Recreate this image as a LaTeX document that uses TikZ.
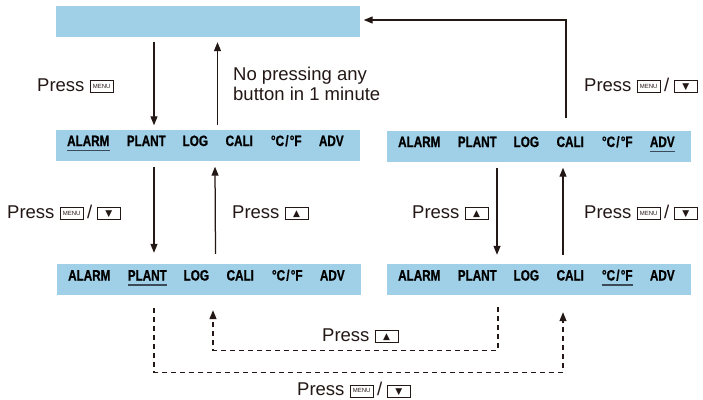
\documentclass[tikz,border=0pt]{standalone}
\usepackage{fontspec}
\setmainfont{Liberation Sans}
\newfontfamily\lcdfont{Liberation Sans}[FakeStretch=0.78, FakeBold=0.8]
\newfontfamily\symfont{DejaVu Sans}
\usetikzlibrary{arrows.meta,calc}
\definecolor{barblue}{RGB}{160,207,232}
\definecolor{ink}{RGB}{35,24,21}
\definecolor{ulcol}{RGB}{60,75,90}
\newcommand{\kbox}[1]{{\setlength{\fboxsep}{0pt}\setlength{\fboxrule}{0.7pt}\fbox{\makebox[22.6pt][c]{\rule[-1pt]{0pt}{11pt}#1}}}}
\newcommand{\kmenu}{\kbox{\raisebox{2.8pt}{\fontsize{6pt}{6pt}\selectfont MENU}}}
\newcommand{\kdn}{\kbox{\raisebox{1.2pt}{\symfont\fontsize{9pt}{9pt}\selectfont ▼}}}
\newcommand{\kup}{\kbox{\raisebox{1.2pt}{\symfont\fontsize{9pt}{9pt}\selectfont ▲}}}
\newcommand{\orsep}{\hspace{3.5pt}/\hspace{4.5pt}}
\newcommand{\lcdrow}[2]{%
  \node[bar] (#1) at (#2) {};
  \foreach \off/\txt [count=\i] in {33/ALARM,91/PLANT,140/LOG,184/CALI,231/{°C\hspace{1.2pt}/\hspace{1.2pt}°F},276/ADV}
    \node[lcd, anchor=base] (#1-\i) at ([xshift=\off pt, yshift=-1pt]#1.west) {\txt};
}
\begin{document}
\begin{tikzpicture}[x=1pt, y=-1pt,
  bar/.style={fill=barblue, minimum width=304pt, minimum height=31pt, inner sep=0pt},
  lcd/.style={font=\lcdfont\bfseries\fontsize{15pt}{15pt}\selectfont, text=black, inner sep=0pt},
  lbl/.style={font=\fontsize{18.5pt}{20pt}\selectfont, text=ink, inner sep=0pt, anchor=base west},
  arr/.style={draw=ink, line width=1.25pt, -{Triangle[width=7pt,length=9pt]}},
  dashline/.style={dash pattern=on 5pt off 4pt},
  underl/.style={draw=ulcol, line width=1.5pt}]
\fill[white] (0,0) rectangle (703,399);
\useasboundingbox (0,0) rectangle (703,399);

% bars
\node[bar] (top) at (207.5,21.5) {};
\lcdrow{L1}{207.5,145}
\lcdrow{R1}{538.5,146}
\lcdrow{L2}{208.5,279.5}
\lcdrow{R2}{538.5,279.5}

% underlines (selected item)
\draw[underl] ([yshift=-4.5pt]L1-1.base west) -- ([yshift=-4.5pt]L1-1.base east);
\draw[underl] ([yshift=-4.5pt]R1-6.base west) -- ([yshift=-4.5pt]R1-6.base east);
\draw[underl] ([yshift=-4.5pt]L2-2.base west) -- ([yshift=-4.5pt]L2-2.base east);
\draw[underl] ([yshift=-4.5pt]R2-5.base west) -- ([yshift=-4.5pt]R2-5.base east);

% labels
\node[lbl] (pTL) at (37,91) {Press \kmenu};
\node[lbl] (np1) at (233,80) {No pressing any};
\node[lbl] (np2) at (233,100) {button in 1 minute};
\node[lbl] (pTR) at (584,91) {Press \kmenu\orsep\kdn};
\node[lbl] (pML) at (7,218) {Press \kmenu\orsep\kdn};
\node[lbl] (pMC) at (232,218) {Press \kup};
\node[lbl] (pMR1) at (412,218) {Press \kup};
\node[lbl] (pMR2) at (584,218) {Press \kmenu\orsep\kdn};
\node[lbl] (pD1) at (322,341) {Press \kup};
\node[lbl] (pD2) at (297,395.5) {Press \kmenu\orsep\kdn};

% solid connectors
\draw[arr] ([xshift=-53.5pt,yshift=-5pt]top.south) -- ([xshift=-53.5pt,yshift=4pt]L1.north);
\draw[arr] ([xshift=10pt,yshift=4pt]L1.north) -- ([xshift=10pt,yshift=-5pt]top.south);
\draw[arr] ([xshift=27.5pt,yshift=12pt]R1.north) |- ([xshift=4pt,yshift=1.5pt]top.east);
\draw[arr] ([xshift=-53.5pt,yshift=-6pt]L1.south) -- ([xshift=-54.5pt,yshift=11pt]L2.north);
\draw[arr] ([xshift=7pt,yshift=10pt]L2.north) -- ([xshift=7.5pt,yshift=-6pt]L1.south);
\draw[arr] ([xshift=-41.5pt,yshift=-6pt]R1.south) -- ([xshift=-41.5pt,yshift=9pt]R2.north);
\draw[arr] ([xshift=24.5pt,yshift=9pt]R2.north) -- ([xshift=24.5pt,yshift=-6pt]R1.south);

% dashed connectors
\draw[arr,dashline] ([xshift=-54.5pt,yshift=-13pt]L2.south) -- ++(0,64) -| ([xshift=24.5pt,yshift=-17pt]R2.south);
\draw[arr,dashline] ([xshift=-40.5pt,yshift=-12pt]R2.south) -- ++(0,43) -| ([xshift=4.5pt,yshift=-15pt]L2.south);
\end{tikzpicture}
\end{document}
